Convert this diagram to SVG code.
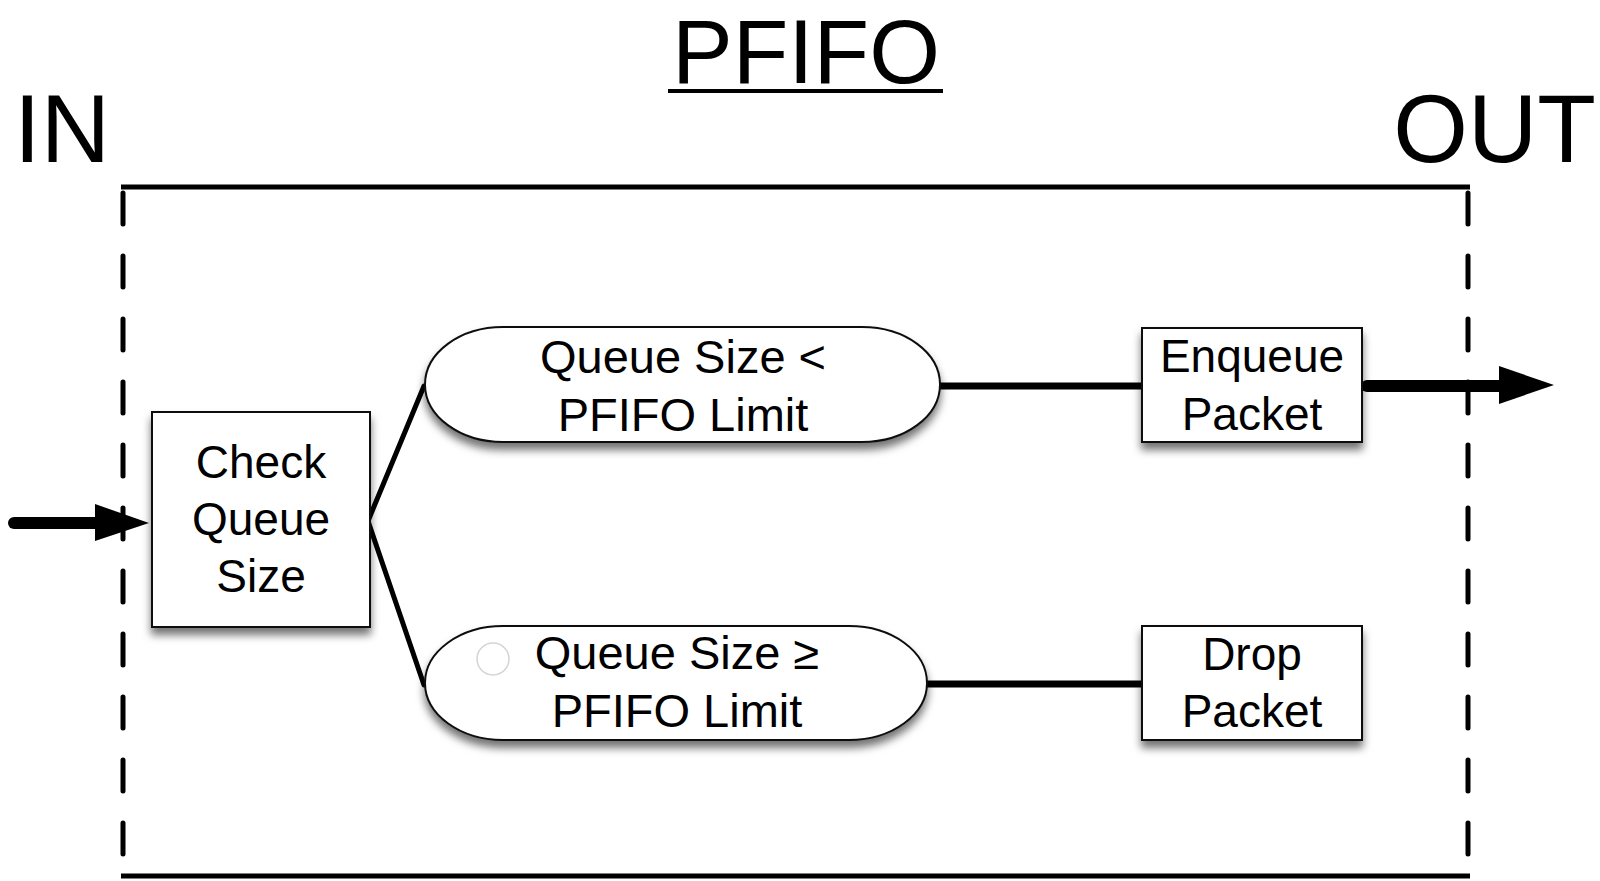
<svg xmlns="http://www.w3.org/2000/svg" width="1600" height="881" viewBox="0 0 1600 881">
<defs>
<filter id="sh" x="-10%" y="-20%" width="130%" height="150%">
<feDropShadow dx="0" dy="7" stdDeviation="4" flood-color="#000" flood-opacity="0.55"/>
</filter>
<style>
text{font-family:"Liberation Sans",Arial,sans-serif;fill:#000;text-anchor:middle}
.big{font-size:96px}
.t{font-size:47px}
.node{fill:#fff;stroke:#111;stroke-width:2;filter:url(#sh)}
.dash{stroke:#000;stroke-width:5;stroke-linecap:round;stroke-dasharray:31 32;fill:none}
.solid{stroke:#000;stroke-width:5;fill:none}
.conn{stroke:#000;stroke-width:7;stroke-linecap:round;fill:none}
.br{stroke:#000;stroke-width:5;stroke-linecap:round;fill:none}
.thick{stroke:#000;stroke-width:12;stroke-linecap:round;fill:none}
</style>
</defs>
<rect width="1600" height="881" fill="#fff"/>

<g id="title">
<text x="806" y="83" style="font-size:91px">PFIFO</text>
<line x1="668" y1="91" x2="943" y2="91" stroke="#000" stroke-width="4"/>
</g>
<text x="14" y="162" class="big" style="text-anchor:start">IN</text>
<text x="1596" y="162" class="big" style="text-anchor:end">OUT</text>

<g id="frame">
<line x1="121" y1="187" x2="1470" y2="187" class="solid"/>
<line x1="121" y1="876" x2="1470" y2="876" class="solid"/>
<line x1="123" y1="190" x2="123" y2="872" class="dash" stroke-dashoffset="-3"/>
<line x1="1468" y1="190" x2="1468" y2="872" class="dash" stroke-dashoffset="-3"/>
</g>

<g id="connectors">
<line x1="14" y1="523" x2="100" y2="523" class="thick"/>
<polygon points="95,504 149,523 95,541" fill="#000"/>
<polyline points="424,386 368,521 424,685" class="br" stroke-linejoin="miter"/>
<line x1="940" y1="386" x2="1142" y2="386" class="conn"/>
<line x1="927" y1="684" x2="1142" y2="684" class="conn"/>
<line x1="1367" y1="386" x2="1505" y2="386" class="thick"/>
<polygon points="1499,366 1554,385 1499,404" fill="#000"/>
</g>

<g id="check">
<rect x="152" y="412" width="218" height="215" class="node"/>
<text x="261" y="478" class="t" style="font-size:46px">Check</text>
<text x="261" y="535" class="t" style="font-size:46px">Queue</text>
<text x="261" y="592" class="t" style="font-size:46px">Size</text>
</g>

<g id="lt">
<rect x="425" y="327" width="515" height="115" rx="78" ry="57.5" class="node"/>
<text x="683" y="373" class="t">Queue Size &lt;</text>
<text x="683" y="431" class="t">PFIFO Limit</text>
</g>

<g id="ge">
<rect x="425" y="626" width="502" height="114" rx="78" ry="57" class="node"/>
<circle cx="493" cy="659" r="16" fill="none" stroke="#d4d4d4" stroke-width="1.5"/>
<text x="677" y="669" class="t">Queue Size ≥</text>
<text x="677" y="727" class="t">PFIFO Limit</text>
</g>

<g id="enqueue">
<rect x="1142" y="328" width="220" height="114" class="node"/>
<text x="1252" y="372" class="t" style="font-size:46px">Enqueue</text>
<text x="1252" y="430" class="t" style="font-size:46px">Packet</text>
</g>

<g id="drop">
<rect x="1142" y="626" width="220" height="114" class="node"/>
<text x="1252" y="670" class="t" style="font-size:46px">Drop</text>
<text x="1252" y="727" class="t" style="font-size:46px">Packet</text>
</g>
</svg>
